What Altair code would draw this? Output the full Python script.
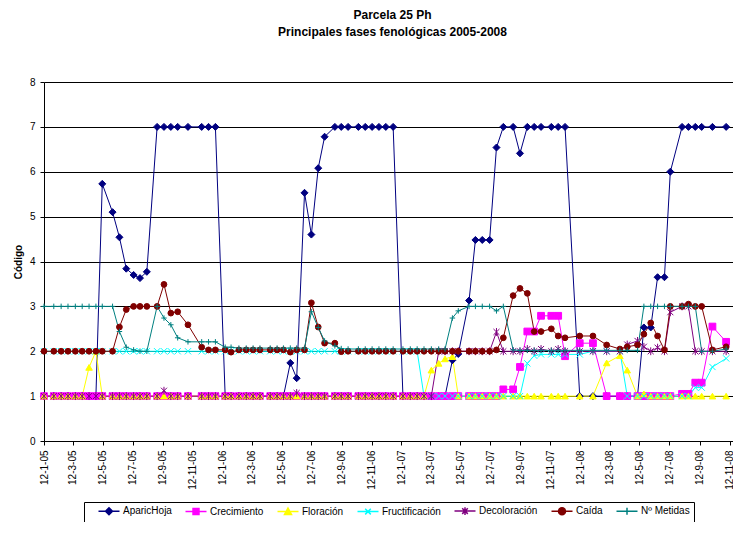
import altair as alt
import pandas as pd

# ---------------- data ----------------
fechas = [
    "2005/01/12", "2005/02/01", "2005/02/16", "2005/03/02", "2005/03/17", "2005/03/31",
    "2005/04/14", "2005/04/28", "2005/05/11", "2005/06/01", "2005/06/15", "2005/06/29",
    "2005/07/14", "2005/07/27", "2005/08/10", "2005/08/31", "2005/09/14", "2005/09/28",
    "2005/10/12", "2005/11/02", "2005/11/30", "2005/12/14", "2005/12/28", "2006/01/17",
    "2006/01/29", "2006/02/14", "2006/03/01", "2006/03/15", "2006/03/29", "2006/04/19",
    "2006/05/03", "2006/05/16", "2006/05/30", "2006/06/12", "2006/06/28", "2006/07/12",
    "2006/07/26", "2006/08/08", "2006/08/29", "2006/09/11", "2006/09/25", "2006/10/16",
    "2006/10/30", "2006/11/13", "2006/11/27", "2006/12/11", "2006/12/26", "2007/01/15",
    "2007/01/30", "2007/02/13", "2007/02/27", "2007/03/14", "2007/03/29", "2007/04/11",
    "2007/04/26", "2007/05/08", "2007/05/30", "2007/06/12", "2007/06/26", "2007/07/11",
    "2007/07/25", "2007/08/08", "2007/08/28", "2007/09/11", "2007/09/26", "2007/10/10",
    "2007/10/24", "2007/11/14", "2007/11/28", "2007/12/12", "2008/01/11", "2008/02/07",
    "2008/03/06", "2008/04/02", "2008/04/17", "2008/05/08", "2008/05/21", "2008/06/04",
    "2008/06/18", "2008/07/02", "2008/07/14", "2008/08/07", "2008/08/20", "2008/09/03",
    "2008/09/16", "2008/10/08", "2008/11/05",
]

aparic_hoja = (
    [1, 1, 1, 1, 1, 1, 1, 1]
    + [5.73, 5.10, 4.54, 3.84, 3.70, 3.63, 3.77]
    + [7, 7, 7, 7, 7, 7, 7, 7]
    + [1, 1, 1, 1, 1, 1, 1, 1, 1]
    + [1.74, 1.40, 5.53, 4.60, 6.08, 6.78]
    + [7, 7, 7, 7, 7, 7, 7, 7, 7]
    + [1, 1, 1, 1, 1, 1, 1]
    + [1.80, 1.94, 3.13, 4.48, 4.48, 4.48]
    + [6.54, 7, 7, 6.41, 7, 7, 7, 7, 7, 7]
    + [1, 1, 1, 1, 1, 1]
    + [2.53, 2.53, 3.65, 3.65, 6.00]
    + [7, 7, 7, 7, 7, 7]
)

crecimiento = (
    [1] * 61
    + [1.15, 1.15, 1.65, 2.44, 2.44, 2.79, 2.79, 2.79, 1.89, 2.18, 2.18]
    + [1, 1, 1, 1, 1, 1, 1, 1, 1]
    + [1.05, 1.05, 1.30, 1.30, 2.55, 2.21]
)

floracion = (
    [1, 1, 1, 1, 1, 1]
    + [1.64, 2.0]
    + [1] * 43
    + [1.58, 1.73, 1.83, 1.88]
    + [1] * 17
    + [1.74, 1.90, 1.58, 1, 1.05]
    + [1, 1, 1, 1, 1, 1, 1, 1, 1, 1]
)

fructificacion = (
    [2] * 50
    + [1] * 14
    + [1.73, 1.90, 1.93, 1.93, 1.93, 1.93, 1.93, 2.0, 2.0, 2.0]
    + [1, 1, 1, 1, 1, 1, 1, 1, 1]
    + [1.19, 1.19, 1.65, 1.84]
)

decoloracion = (
    [1] * 16
    + [1.12]
    + [1] * 16
    + [1.07]
    + [1] * 18
    + [2, 2, 2, 2, 2, 2, 2, 2]
    + [2.43, 2, 2, 2, 2.05, 2.0, 2.05, 2.0, 2.05, 2, 2, 2, 2, 2]
    + [2.15, 2.23, 2.10, 2.0, 2.08, 2.0, 2.87, 3.0, 3.0]
    + [2, 2, 2, 2]
)

caida = (
    [2] * 10
    + [2.54, 2.93, 3, 3, 3, 3]
    + [3.49, 2.85, 2.88, 2.59, 2.09, 2.03, 2.03, 2.03, 1.98]
    + [2.03, 2.03, 2.03, 2.03, 2.03, 2.03, 2.03, 1.98, 2.03, 2.03]
    + [3.08, 2.54, 2.18, 2.18, 1.99]
    + [2] * 20
    + [2.03, 2.30, 3.24, 3.40, 3.29, 2.44, 2.44, 2.50, 2.34, 2.30]
    + [2.34, 2.34, 2.14, 2.05, 2.10, 2.14, 2.38, 2.63, 2.34, 2.03]
    + [3.0, 3.0, 3.05, 3.0, 3.0, 2.03, 2.10]
)

n_metidas = (
    [3] * 10
    + [2.44, 2.09, 2.03, 2.0, 2.0]
    + [3.0, 2.74, 2.59, 2.30, 2.21, 2.21, 2.21, 2.21, 2.09, 2.09]
    + [2.07] * 10
    + [2.88, 2.53, 2.23, 2.12, 2.06]
    + [2.05] * 14
    + [2.74, 2.90, 3, 3, 3, 3, 2.90, 3.0, 2.03]
    + [2.02] * 13
    + [3, 3, 3, 3, 3, 3, 3, 3]
    + [2.0, 2.0, 2.05]
)

series = ["AparicHoja", "Crecimiento", "Floración", "Fructificación",
          "Decoloración", "Caída", "Nº Metidas"]
valores = [aparic_hoja, crecimiento, floracion, fructificacion,
           decoloracion, caida, n_metidas]

x_tick_labels = [
    "12-1-05", "12-3-05", "12-5-05", "12-7-05", "12-9-05", "12-11-05",
    "12-1-06", "12-3-06", "12-5-06", "12-7-06", "12-9-06", "12-11-06",
    "12-1-07", "12-3-07", "12-5-07", "12-7-07", "12-9-07", "12-11-07",
    "12-1-08", "12-3-08", "12-5-08", "12-7-08", "12-9-08", "12-11-08",
]
y_ticks = [0, 1, 2, 3, 4, 5, 6, 7, 8]

# ---------------- styles ----------------
colores = ["#000080", "#FF00FF", "#FFFF00", "#00FFFF", "#800080", "#800000", "#008080"]
marcadores = [
    "diamond", "square", "triangle-up",
    "M-1,-1L1,1M-1,1L1,-1",
    "M-1,-1L1,1M-1,1L1,-1M0,-1.3L0,1.3",
    "circle",
    "M-1,0L1,0M0,-1L0,1",
]
tamanos = [49, 30, 40, 36, 40, 64, 49]
marcadores_leyenda = [
    "M-3,0H3M0,-1L1,0L0,1L-1,0Z",
    "M-3,0H3M-0.85,-0.85H0.85V0.85H-0.85Z",
    "M-3,0H3M0,-1L1,0.85H-1Z",
    "M-3,0H3M-0.8,-0.8L0.8,0.8M-0.8,0.8L0.8,-0.8",
    "M-3,0H3M-0.8,-0.8L0.8,0.8M-0.8,0.8L0.8,-0.8M0,-1.1V1.1",
    "M-3,0H3M-1,0A1,1,0,1,0,1,0A1,1,0,1,0,-1,0Z",
    "M-3,0H3M0,-1V1",
]
FONT = "Liberation Sans, Arial, sans-serif"

rows = []
for nombre, vals in zip(series, valores):
    for f, v in zip(fechas, vals):
        rows.append({"fecha": f, "serie": nombre, "codigo": v})
df = pd.DataFrame(rows)


def to_dt(label):
    d, m, y = label.split("-")
    return alt.DateTime(year=2000 + int(y), month=int(m), date=int(d))


x_enc = alt.X(
    "fecha:T",
    title=None,
    scale=alt.Scale(domain=[alt.DateTime(year=2005, month=1, date=12),
                            alt.DateTime(year=2008, month=11, date=19)], nice=False),
    axis=alt.Axis(
        values=[to_dt(t) for t in x_tick_labels],
        format="%-d-%-m-%y",
        labelAngle=-90,
        labelFontSize=10,
        labelPadding=5,
        tickSize=4,
        labelFlush=False,
        labelOverlap=False,
        labelBound=False,
        grid=False,
    ),
)
y_enc = alt.Y(
    "codigo:Q",
    title="Código",
    scale=alt.Scale(domain=[0, 8], nice=False, zero=True),
    axis=alt.Axis(
        values=y_ticks,
        grid=True,
        gridColor="black",
        gridWidth=1,
        gridOpacity=1,
        tickSize=4,
        labelFontSize=10,
        labelPadding=5,
        titleFontSize=10,
        titleFontWeight="bold",
        titlePadding=6,
    ),
)

base = alt.Chart(df)

lineas = base.mark_line(strokeWidth=1).encode(
    x=x_enc,
    y=y_enc,
    stroke=alt.Stroke("serie:N", scale=alt.Scale(domain=series, range=colores), legend=None),
)

puntos = base.mark_point(opacity=1, strokeWidth=1).encode(
    x=x_enc,
    y=y_enc,
    fill=alt.Fill("serie:N", scale=alt.Scale(domain=series, range=colores), legend=None),
    stroke=alt.Stroke("serie:N", scale=alt.Scale(domain=series, range=colores), legend=None),
    shape=alt.Shape("serie:N", scale=alt.Scale(domain=series, range=marcadores), legend=None),
    size=alt.Size("serie:N", scale=alt.Scale(domain=series, range=tamanos), legend=None),
)

leg = alt.Legend(
    title=None,
    orient="none",
    legendX=40,
    legendY=420,
    direction="horizontal",
    strokeColor="black",
    padding=4,
    labelFont=FONT,
    labelFontSize=10,
    labelColor="black",
    symbolSize=49,
    symbolStrokeWidth=1.5,
    symbolOffset=16,
    labelOffset=9,
    columnPadding=3,
)

leyenda = base.transform_filter("false").mark_point(opacity=1, strokeWidth=1.5).encode(
    x=x_enc,
    y=y_enc,
    fill=alt.Fill("serie:N", scale=alt.Scale(domain=series, range=colores), legend=leg),
    stroke=alt.Stroke("serie:N", scale=alt.Scale(domain=series, range=colores), legend=leg),
    shape=alt.Shape("serie:N", scale=alt.Scale(domain=series, range=marcadores_leyenda), legend=leg),
)

chart = (
    alt.layer(lineas, puntos, leyenda)
    .resolve_scale(fill="independent", stroke="independent", shape="independent", size="independent")
    .properties(
        width=689,
        height=359,
        title=alt.TitleParams(
            text=["Parcela 25 Ph", "Principales fases fenológicas 2005-2008"],
            font=FONT,
            fontSize=12,
            fontWeight="bold",
            lineHeight=17,
            color="black",
            anchor="middle",
            offset=38,
            dx=4,
        ),
        autosize=alt.AutoSizeParams(type="none"),
        padding={"left": 36, "top": 74, "right": 0, "bottom": 81},
    )
    .configure_view(stroke=None)
    .configure_axis(
        labelFont=FONT,
        titleFont=FONT,
        labelColor="black",
        titleColor="black",
        domainColor="black",
        tickColor="black",
    )
)

chart.save("out.html", embed_options={"renderer": "svg", "actions": False})
